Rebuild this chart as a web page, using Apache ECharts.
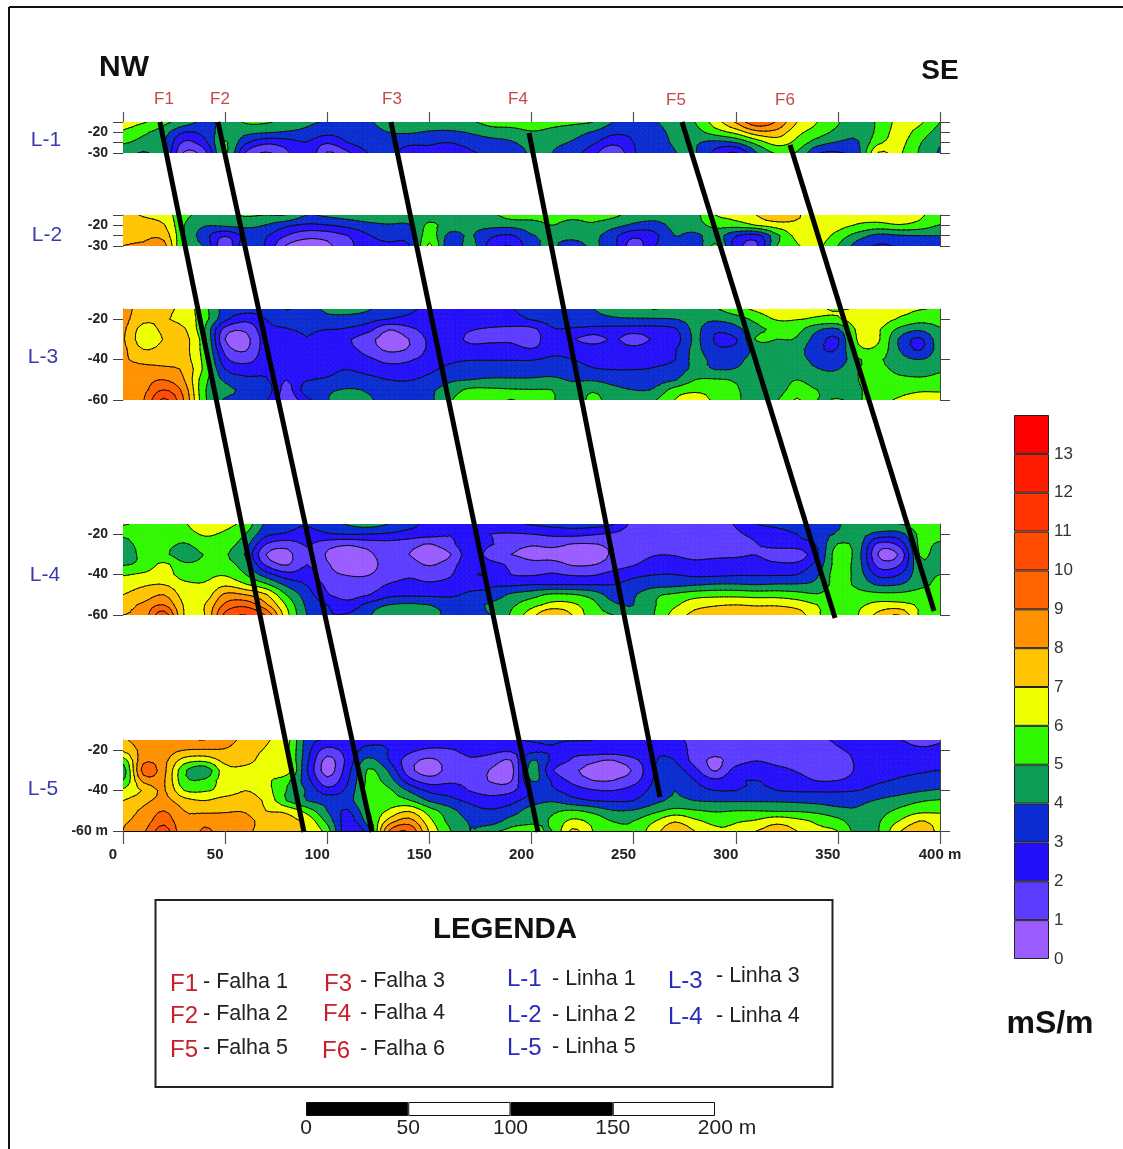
<!DOCTYPE html>
<html><head><meta charset="utf-8">
<script src="https://cdn.jsdelivr.net/npm/echarts@6/dist/echarts.min.js"></script>
<style>html,body{margin:0;padding:0;background:#fff}#c{width:1123px;height:1149px}</style>
</head><body><div id="c"></div>
<script>
// ---------- values (mS/m) ----------
const distanceM = [0,10,20,30,40,50,60,70,80,90,100,110,120,130,140,150,160,170,180,190,200,210,220,230,240,250,260,270,280,290,300,310,320,330,340,350,360,370,380,390,400];
const depthShallow = [-15,-20,-25,-30];
const depthDeep = [-15,-20,-25,-30,-35,-40,-45,-50,-55,-60];

const line1 = [
[6.3,6.1,5.3,4.5,3.8,4.3,5.1,5.1,4.7,4.2, 3.9,3.6,3.9,4.3,4.4,4.6,4.8,4.9,5.3,5.5, 5.6,5.3,5.2,5.0,4.0,3.7,3.95,4.3,5.0,6.5, 8.1,9.7,8.9,7.0,6.0,5.1,4.4,5.2,6.3,6.2, 5.0],
[5.9,5.2,4.4,3.0,3.3,4.6,4.3,4.1,3.9,3.7, 3.3,3.4,3.7,4.0,4.1,3.9,3.8,4.1,4.5,4.5, 4.9,4.7,4.4,3.9,3.2,3.2,3.7,4.2,4.6,5.5, 6.3,7.6,7.6,6.3,5.5,4.7,4.2,5.3,6.4,5.6, 4.6],
[5.1,4.6,4.1,1.8,2.7,5.1,3.2,2.2,2.5,2.95, 2.1,3.0,3.5,3.6,3.2,3.1,3.0,3.3,3.6,3.9, 4.3,4.2,3.9,3.2,2.3,3.0,3.5,4.1,4.1,3.7, 4.0,5.3,6.4,5.7,4.5,3.9,3.95,5.8,6.3,5.1, 4.1],
[4.4,3.9,4.1,0.9,1.6,5.2,1.9,0.9,1.8,2.9, 0.9,1.8,3.0,3.2,2.6,2.8,2.6,2.9,3.2,3.5, 4.1,4.0,3.4,2.4,1.0,2.9,3.4,3.95,4.1,2.7, 1.9,3.9,5.1,4.9,3.1,2.9,3.7,7.1,6.2,4.9, 3.9]
];
const line2 = [
[7.3,6.9,6.5,5.3,4.7,4.8,5.1,5.0,5.0,4.0, 4.2,4.4,4.6,4.7,4.6,4.6,4.6,4.8,4.8,5.4, 5.3,5.2,5.2,5.2,5.2,4.6,4.4,4.4,4.7,6.0, 6.3,7.0,7.7,7.1,6.6,6.5,6.4,6.5,6.9,6.2, 5.5],
[7.7,7.5,7.1,5.0,4.1,4.2,4.3,3.95,3.2,2.8, 2.95,3.3,3.7,3.9,3.9,5.2,4.5,4.3,4.3,4.3, 4.6,5.0,4.7,4.9,4.4,3.8,3.6,4.3,4.6,5.3, 5.5,6.0,6.5,6.8,6.9,6.4,5.9,5.7,5.9,5.6, 4.95],
[7.9,7.8,7.6,5.0,3.4,2.05,3.2,3.1,2.0,1.3, 1.4,2.0,2.9,3.4,3.5,5.5,3.7,4.1,3.2,2.9, 3.9,4.2,4.3,4.3,3.3,2.2,2.7,4.0,3.7,4.5, 3.1,2.6,4.7,6.3,6.6,5.6,4.5,3.7,3.9,4.0, 4.0],
[8.0,8.1,8.4,4.7,3.9,1.2,3.8,2.9,0.9,0.5, 0.8,1.7,2.6,2.8,2.9,6.2,3.3,4.4,2.6,2.0, 3.7,4.1,3.6,4.1,3.4,1.5,2.9,4.0,3.2,5.2, 2.5,1.8,5.0,5.9,6.2,5.0,3.5,2.9,3.1,3.3, 3.5]
];
const line3 = [
[8.3,7.6,7.3,6.6,5.3,3.6,3.4,3.3,4.05,3.6, 4.2,4.4,4.1,3.4,3.1,2.9,2.8,2.7,2.8,2.97, 3.3,3.6,3.9,4.0,4.2,4.3,5.05,4.4,4.4,4.9, 5.6,6.2,6.5,6.4,6.1,5.95,6.1,6.4,6.3,6.05, 5.95],
[8.3,7.3,7.1,6.6,5.4,3.3,2.3,3.0,3.4,3.5, 3.7,3.6,3.4,3.0,2.8,2.7,2.6,2.5,2.5,2.6, 3.1,3.4,3.6,3.7,3.9,3.95,3.9,4.0,4.3,4.2, 4.5,5.3,6.1,6.05,5.9,5.9,6.6,6.5,5.9,5.4, 5.4],
[8.2,6.6,7.2,7.1,5.0,1.6,1.2,2.7,2.95,3.2, 3.05,2.9,2.4,1.05,1.7,2.5,2.7,2.1,1.9,1.8, 1.7,2.9,2.9,2.7,2.6,2.5,2.6,2.85,4.2,3.2, 3.7,4.7,5.2,5.3,4.2,3.9,6.3,6.1,4.8,4.2, 4.9],
[8.1,6.4,7.05,7.3,5.3,1.0,0.7,2.4,2.1,2.95, 2.1,2.1,1.3,0.6,1.0,2.2,2.6,1.7,1.7,1.7, 1.2,2.98,2.1,1.6,2.1,1.6,2.1,2.5,4.15,2.9, 2.9,5.1,5.0,4.9,3.5,2.9,6.2,6.1,3.9,2.8, 4.6],
[8.2,7.0,7.3,7.3,5.4,1.6,0.9,2.5,2.6,2.8, 2.5,2.3,1.6,0.8,1.1,2.2,2.6,2.5,2.6,2.6, 2.1,2.8,2.7,2.6,2.5,2.3,2.6,2.9,4.2,3.2, 3.3,4.3,4.5,4.4,3.2,3.1,5.7,5.7,4.0,2.9, 4.5],
[8.1,7.7,7.5,7.4,5.6,2.3,1.6,2.6,2.7,2.7, 2.6,2.5,2.2,1.7,1.9,2.4,2.8,2.95,2.95,2.95, 2.95,3.15,3.0,2.7,2.6,2.6,2.7,2.95,4.3,3.7, 3.8,4.3,4.3,4.3,3.7,3.4,4.9,5.1,4.4,4.0, 4.6],
[8.2,8.3,8.3,7.8,5.7,3.0,2.6,2.8,2.8,2.7, 2.8,3.0,2.7,2.4,2.4,2.8,3.3,3.5,3.6,3.6, 3.6,3.6,3.5,3.1,3.0,3.0,3.1,3.5,4.2,4.0, 4.05,4.4,4.5,4.4,4.05,4.0,5.0,5.3,4.7,4.5, 4.9],
[8.4,8.6,9.0,8.0,5.3,3.8,3.2,3.1,2.0,2.9, 3.1,3.4,3.3,3.0,2.95,3.3,3.8,4.0,4.1,4.1, 4.1,4.2,3.9,3.9,3.6,3.5,3.6,3.9,5.0,5.1, 4.9,4.4,4.4,5.0,4.4,4.4,5.0,5.5,5.3,5.2, 5.3],
[8.3,8.7,10.0,8.6,5.1,4.3,3.8,3.6,1.7,3.6, 3.8,4.1,3.9,3.5,3.5,3.8,4.5,5.2,5.2,5.1, 5.05,5.0,4.4,4.9,4.3,4.0,4.1,5.4,5.8,5.6, 5.1,4.6,4.5,5.5,5.0,4.7,4.9,5.5,5.7,5.9, 5.9],
[8.4,8.95,11.2,8.9,5.2,3.9,3.8,3.1,1.4,2.7, 3.9,4.9,4.1,3.9,3.7,3.8,4.9,5.5,5.5,6.05, 5.5,5.1,4.5,5.2,4.6,4.2,4.9,6.0,6.5,5.8, 5.2,4.5,4.9,6.1,5.0,5.05,4.9,5.7,6.1,6.3, 6.3]
];
const line4 = [
[6.1,5.7,5.6,5.9,6.6,6.3,5.6,3.8,3.3,3.1, 3.6,4.1,4.4,4.0,3.3,2.8,2.6,2.5,2.6,2.8, 3.1,3.3,3.4,3.4,3.05,1.7,1.6,1.5,1.5,1.6, 2.1,2.98,3.3,3.6,3.7,3.95,4.3,4.8,5.0,5.4, 5.3],
[5.2,5.5,5.5,5.6,6.1,5.8,5.0,3.3,2.9,2.6, 2.9,3.05,3.0,2.85,2.6,2.4,2.05,2.3,2.0,1.9, 2.0,2.2,2.3,2.1,1.8,1.4,1.4,1.5,1.4,1.5, 1.8,2.3,2.5,3.0,3.5,4.1,4.4,3.7,3.6,5.2, 5.5],
[4.6,5.4,5.4,4.9,5.6,5.4,4.4,2.0,1.4,2.1, 1.4,1.1,1.4,1.6,1.4,0.95,1.7,2.7,2.1,1.5, 1.1,1.3,0.95,0.95,1.2,1.4,1.6,1.6,1.05,1.4, 1.6,1.95,2.6,2.7,3.1,5.05,4.5,1.7,2.3,5.2, 4.8],
[4.3,5.3,5.2,4.4,5.05,5.1,3.9,1.0,0.7,1.8, 0.9,0.5,0.8,1.5,1.0,0.6,0.9,2.6,1.5,1.0, 0.7,0.6,0.5,0.6,1.1,1.3,1.9,1.9,1.5,1.6, 1.7,1.95,1.2,1.3,2.9,5.5,4.4,0.9,1.1,5.05, 4.4],
[4.9,5.3,6.2,5.2,5.3,5.3,4.4,1.8,0.9,2.0, 1.1,0.5,0.6,1.4,1.4,0.9,1.5,2.8,2.4,1.8, 1.3,1.4,0.9,0.95,1.4,1.9,2.6,2.6,2.4,2.6, 2.7,2.6,2.3,2.3,3.4,5.4,4.4,1.6,1.9,4.7, 4.5],
[5.9,6.2,6.5,5.5,5.7,5.9,5.0,3.5,2.4,2.4, 1.3,0.95,0.95,1.6,1.9,1.7,1.9,2.9,2.9,2.0, 1.9,2.1,1.9,1.9,2.4,2.8,2.98,3.0,2.8,2.8, 2.9,2.9,2.9,3.0,3.9,5.5,4.5,2.7,3.0,4.6, 5.0],
[6.7,6.9,7.0,6.3,6.1,6.8,6.1,5.2,3.8,2.95, 1.8,1.4,1.5,2.05,2.2,2.1,2.3,2.7,2.9,2.8, 3.0,3.0,3.0,3.0,3.0,3.3,3.6,3.7,3.9,4.1, 4.1,4.0,4.1,4.1,4.3,5.4,4.7,3.9,4.0,4.7, 5.2],
[7.0,7.4,8.0,6.6,6.4,8.2,8.0,7.1,5.0,3.5, 2.1,1.6,1.95,2.7,2.8,2.8,2.8,3.2,3.3,4.2, 4.6,5.2,5.1,4.6,3.6,3.9,4.8,5.2,5.6,5.7, 5.7,5.6,5.6,5.4,5.1,5.6,5.4,5.3,5.3,5.5, 5.6],
[7.7,8.2,9.0,6.9,7.0,9.2,9.7,8.2,5.9,3.8, 3.0,2.4,3.3,4.0,4.2,4.0,3.7,3.6,4.2,4.8, 5.6,6.3,6.2,5.3,4.2,4.0,4.9,5.8,6.6,6.9, 7.0,6.9,6.9,6.6,6.0,5.5,5.8,6.3,6.3,5.9, 5.7],
[8.0,8.4,10.6,6.95,7.0,10.3,11.0,9.9,6.4,4.0, 3.1,3.1,3.8,5.0,4.5,4.3,3.8,3.7,4.0,5.1, 6.6,8.0,7.0,5.4,5.0,4.2,5.0,6.4,7.3,7.6, 7.8,7.7,7.7,7.5,6.2,5.1,6.0,7.3,8.0,5.9, 5.5]
];
const line5 = [
[7.9,8.4,8.6,8.8,9.0,8.4,7.7,7.1,6.4,3.6, 2.9,2.9,2.9,2.9,2.8,2.7,2.6,2.7,2.9,2.9, 3.1,3.1,3.05,3.0,2.95,2.6,2.4,2.1,1.9,1.8, 1.7,1.7,1.7,1.8,1.9,2.1,2.5,2.8,2.1,1.5, 1.9],
[7.2,8.3,8.5,8.0,7.9,7.9,7.4,6.9,6.2,3.5, 1.6,2.5,3.2,3.0,2.3,1.8,1.9,2.3,2.3,2.2, 2.7,2.9,2.4,2.7,2.7,2.8,2.9,2.6,1.7,1.4, 1.5,1.6,1.5,1.6,1.7,1.9,2.3,2.8,2.7,2.3, 2.3],
[5.5,8.7,8.3,6.6,6.3,7.3,7.3,6.6,6.2,3.3, 0.7,2.3,4.3,3.0,1.5,0.8,1.5,1.9,1.6,1.0, 4.0,2.85,1.9,1.2,1.0,1.7,2.9,3.0,1.6,0.8, 1.5,1.95,1.6,1.5,1.5,1.5,2.2,2.8,2.9,2.8, 2.7],
[4.4,9.4,8.3,5.2,4.3,6.6,6.7,6.4,6.6,3.1, 0.6,2.6,5.1,3.9,1.4,0.5,1.4,2.0,0.9,0.6, 4.5,2.1,1.2,0.7,0.7,1.1,3.0,3.4,2.3,0.9, 2.4,2.7,2.4,1.9,1.4,1.3,2.2,2.6,2.8,2.9, 3.0],
[5.0,8.3,8.1,5.3,5.2,6.6,6.6,6.2,5.3,3.4, 1.3,2.9,5.2,4.5,2.4,1.5,1.8,1.8,0.9,0.9, 4.1,2.9,1.7,1.0,1.0,1.6,3.1,3.9,3.0,2.2, 2.9,3.0,2.9,2.5,1.95,2.0,2.5,2.85,3.1,3.3, 3.4],
[6.3,7.1,8.1,6.0,5.9,6.4,7.0,6.4,5.0,3.9, 2.4,3.3,5.3,5.2,3.9,2.8,2.6,1.95,1.6,1.8, 3.0,3.1,2.6,2.1,2.0,2.5,3.3,4.0,3.4,3.0, 3.0,3.1,3.0,2.9,2.9,2.9,3.0,3.4,3.6,3.9, 4.1],
[7.0,7.7,8.3,7.4,7.0,7.5,7.4,6.8,5.0,4.0, 3.7,3.6,5.3,5.4,5.1,3.9,3.3,2.8,2.4,2.7, 3.5,3.9,3.3,3.0,2.9,3.0,3.7,4.2,4.0,3.9, 3.9,3.9,3.9,3.8,3.7,3.6,3.8,4.1,4.5,4.9, 5.1],
[7.6,8.2,9.0,8.0,7.8,7.9,7.9,7.0,6.8,5.6, 4.0,2.9,4.9,6.1,6.9,5.5,4.4,3.4,3.1,3.5, 4.5,4.8,5.1,4.7,4.05,4.1,4.7,5.3,5.1,4.9, 5.0,5.0,4.9,4.9,4.7,4.3,4.1,4.6,5.2,5.7, 5.8],
[7.9,8.4,9.6,8.2,8.6,8.4,8.3,7.6,7.3,6.7, 4.7,2.6,4.5,7.3,8.4,6.3,4.7,3.9,3.5,4.4, 4.8,5.1,6.2,5.7,4.95,5.0,5.9,6.9,6.2,5.7, 5.9,6.1,6.7,6.3,5.8,5.3,4.4,4.9,6.0,7.0, 6.6],
[8.0,8.8,10.5,8.2,9.2,8.4,8.2,7.6,7.4,6.9, 5.5,2.3,3.6,9.0,9.9,6.9,5.1,4.0,4.7,5.3, 5.4,5.0,7.2,6.0,5.4,5.2,6.6,7.6,7.0,6.2, 6.2,7.0,7.4,7.0,6.2,6.0,4.6,5.0,6.9,7.6, 6.8]
];
// fault traces: [distance in metres, vertical position on the sheet]
const fault1 = [[18.1,122],[88.6,832]];
const fault2 = [[46.5,122],[121.9,832]];
const fault3 = [[131.2,122],[203.2,832]];
const fault4 = [[198.8,133],[262.9,797]];
const fault5 = [[273.7,122],[348.6,618]];
const fault6 = [[326.6,145],[397.1,611]];

const bandLevels = [0,1,2,3,4,5,6,7,8,9,10,11,12,13,14];
const bandColors = ['#9A5CFF','#5C3CFF','#2410F8','#0A2CD0','#0C9C55','#30F800','#EEFF00','#FFC400','#FF9000','#FF6400','#FF4C00','#FF3400','#FF1C00','#FF0000'];
const scaleSegments = [50,50,50,50];
const scaleColors = ['#000','#fff','#000','#fff'];
const scaleTicks = ['0','50','100','150','200 m'];
const lineLabels = ['L-1','L-2','L-3','L-4','L-5'];
const faultLabels = ['F1','F2','F3','F4','F5','F6'];
const legendFaults = [['F1','- Falha 1'],['F2','- Falha 2'],['F5','- Falha 5'],['F3','- Falha 3'],['F4','- Falha 4'],['F6','- Falha 6']];
const legendLines = [['L-1','- Linha 1'],['L-2','- Linha 2'],['L-5','- Linha 5'],['L-3','- Linha 3'],['L-4','- Linha 4']];

// ---------- layout ----------
const FONT = '"Liberation Sans", Arial, sans-serif';
const RED = '#C8202A', BLUE = '#2A2ABE';
const panels = [
 {m:line1,d:depthShallow,top:122,h:31,ticks:[-15,-20,-25,-30],labels:[-20,-30]},
 {m:line2,d:depthShallow,top:215,h:31,ticks:[-15,-20,-25,-30],labels:[-20,-30]},
 {m:line3,d:depthDeep,top:309,h:91,ticks:[-20,-40,-60],labels:[-20,-40,-60]},
 {m:line4,d:depthDeep,top:524,h:91,ticks:[-20,-40,-60],labels:[-20,-40,-60]},
 {m:line5,d:depthDeep,top:740,h:91,ticks:[-20,-40,-60],labels:[-20,-40,-60]}
];

// one data item per grid cell: its corners in axis units, its four read values, its indices
function cells(xs,ds,m){
  const out=[];
  for(let r=0;r<ds.length-1;r++)for(let c=0;c<xs.length-1;c++)
    out.push([xs[c],ds[r],xs[c+1],ds[r+1],m[r][c],m[r][c+1],m[r+1][c],m[r+1][c+1],c,r]);
  return out;
}
function clipAt(poly,L,above){
  const res=[];
  for(let i=0;i<poly.length;i++){
    const a=poly[i],b=poly[(i+1)%poly.length];
    const ina=above?a[2]>=L:a[2]<=L, inb=above?b[2]>=L:b[2]<=L;
    if(ina)res.push(a);
    if(ina!==inb){const t=(L-a[2])/(b[2]-a[2]);res.push([a[0]+t*(b[0]-a[0]),a[1]+t*(b[1]-a[1]),L]);}
  }
  return res;
}
// contouring surface through the read values (drawing only)
function cr(a,b,c,d,t){return b+0.5*t*(c-a+t*(2*a-5*b+4*c-d+t*(3*(b-c)+d-a)));}
function surface(m,rr,cc){
  const R=Math.min(Math.floor(rr),m.length-2),C=Math.min(Math.floor(cc),m[0].length-2);
  const t=rr-R,s=cc-C,col=[];
  for(let j=-1;j<=2;j++){
    const row=m[Math.max(0,Math.min(m.length-1,R+j))];
    col.push(cr(row[Math.max(0,C-1)],row[C],row[C+1],row[Math.min(row.length-1,C+2)],s));
  }
  return Math.max(0.01,Math.min(13.99,cr(col[0],col[1],col[2],col[3],t)));
}
const NX=4,NY=2;
function triangles(api,m){
  const a=api.coord([api.value(0),api.value(1)]),d=api.coord([api.value(2),api.value(3)]);
  const c=api.value(8),r=api.value(9),pts=[];
  for(let j=0;j<=NY;j++){const row=[];
    for(let i=0;i<=NX;i++)row.push([a[0]+(d[0]-a[0])*i/NX,a[1]+(d[1]-a[1])*j/NY,surface(m,r+j/NY,c+i/NX)]);
    pts.push(row);}
  const tris=[];
  for(let j=0;j<NY;j++)for(let i=0;i<NX;i++){
    const A=pts[j][i],B=pts[j][i+1],C=pts[j+1][i],D=pts[j+1][i+1];
    tris.push([A,B,D],[A,D,C]);
  }
  return tris;
}
function fillRenderer(m){return function(params,api){
  const children=[];
  triangles(api,m).forEach(t=>{
    const lo=Math.min(t[0][2],t[1][2],t[2][2]),hi=Math.max(t[0][2],t[1][2],t[2][2]);
    for(let k=Math.floor(lo);k<=Math.floor(hi)&&k<bandColors.length;k++){
      let p=clipAt(t,bandLevels[k],true);
      if(p.length>2)p=clipAt(p,bandLevels[k+1],false);
      if(p.length>2)children.push({type:'polygon',shape:{points:p.map(q=>[q[0],q[1]])},
        style:{fill:bandColors[k],stroke:bandColors[k],lineWidth:0.7}});
    }
  });
  return {type:'group',children};
};}
function lineRenderer(m){return function(params,api){
  const children=[];
  triangles(api,m).forEach(t=>{
    const lo=Math.min(t[0][2],t[1][2],t[2][2]),hi=Math.max(t[0][2],t[1][2],t[2][2]);
    for(let k=Math.max(1,Math.ceil(lo));k<=hi&&k<bandColors.length;k++){
      const L=bandLevels[k],pts=[];
      for(let i=0;i<3;i++){
        const a=t[i],b=t[(i+1)%3];
        if((a[2]<L)!==(b[2]<L)){const s=(L-a[2])/(b[2]-a[2]);pts.push([a[0]+s*(b[0]-a[0]),a[1]+s*(b[1]-a[1])]);}
      }
      if(pts.length===2)children.push({type:'line',shape:{x1:pts[0][0],y1:pts[0][1],x2:pts[1][0],y2:pts[1][1]},
        style:{stroke:'#101010',lineWidth:1,lineCap:'round'}});
    }
  });
  return {type:'group',children};
};}

const grid=[],xAxis=[],yAxis=[],series=[];
panels.forEach((p,i)=>{
  grid.push({left:123,width:817,top:p.top,height:p.h});
  const isTop=i===0,isBottom=i===4;
  xAxis.push({type:'value',gridIndex:i,min:0,max:400,interval:50,position:isTop?'top':'bottom',
    show:isTop||isBottom,splitLine:{show:false},
    axisLine:{show:true,onZero:false,lineStyle:{color:'#000',width:1}},
    axisTick:{show:true,length:isTop?10:13,lineStyle:{color:'#555',width:1.2}},
    axisLabel:{show:isBottom,margin:16,interval:0,
      formatter:v=>v===400?'{b|400 m}':'{a|'+v+'}',
      rich:{a:{fontFamily:FONT,fontSize:15,fontWeight:'bold',color:'#222',padding:[0,20,0,0]},
            b:{fontFamily:FONT,fontSize:15,fontWeight:'bold',color:'#222'}}}});
  const base={type:'value',gridIndex:i,min:p.d[p.d.length-1],max:-15,splitLine:{show:false}};
  yAxis.push(Object.assign({},base,{position:'left',
    axisLine:{show:true,onZero:false,lineStyle:{color:'#666',width:1}},
    axisTick:{show:true,length:10,customValues:p.ticks,lineStyle:{color:'#444',width:1}},
    axisLabel:{show:true,margin:15,customValues:p.labels,fontFamily:FONT,fontSize:14,fontWeight:'bold',color:'#222',
      formatter:v=>(isBottom&&v===-60)?'-60 m':String(v)}}));
  yAxis.push(Object.assign({},base,{position:'right',
    axisLine:{show:true,onZero:false,lineStyle:{color:'#444',width:1}},
    axisTick:{show:true,length:10,customValues:p.ticks,lineStyle:{color:'#444',width:1}},
    axisLabel:{show:false}}));
  const data=cells(distanceM,p.d,p.m);
  const common={type:'custom',coordinateSystem:'cartesian2d',xAxisIndex:i,yAxisIndex:2*i,data,silent:true,
    clip:true,animation:false,encode:{x:[0,2],y:[1,3]},dimensions:['x0','y0','x1','y1','v00','v10','v01','v11','col','row'],progressive:0};
  series.push(Object.assign({},common,{name:lineLabels[i]+' fill',renderItem:fillRenderer(p.m),z:2}));
  series.push(Object.assign({},common,{name:lineLabels[i]+' contours',renderItem:lineRenderer(p.m),z:3}));
});

// fault overlay
grid.push({left:123,width:817,top:0,height:1149});
xAxis.push({type:'value',gridIndex:5,min:0,max:400,show:false});
yAxis.push({type:'value',gridIndex:5,min:0,max:1149,inverse:true,show:false});
const faultY=yAxis.length-1;
[fault1,fault2,fault3,fault4,fault5,fault6].forEach((f,i)=>{
  series.push({type:'line',name:faultLabels[i],xAxisIndex:5,yAxisIndex:faultY,data:f,symbol:'none',silent:true,
    animation:false,z:10,lineStyle:{color:'#000',width:5,cap:'butt'}});
});

// colour bar
grid.push({left:1014,width:35,top:415,height:544});
xAxis.push({type:'category',gridIndex:6,data:['mS/m'],show:false});
yAxis.push({type:'value',gridIndex:6,min:0,max:14,interval:1,position:'right',splitLine:{show:false},
  axisLine:{show:false},axisTick:{show:false},
  axisLabel:{show:true,margin:5,fontFamily:FONT,fontSize:17,color:'#333',formatter:v=>v<14?String(v):''}});
const barY=yAxis.length-1;
bandColors.forEach((col,k)=>{
  series.push({type:'bar',xAxisIndex:6,yAxisIndex:barY,stack:'bar',name:'band '+k,barWidth:'100%',data:[bandLevels[k+1]-bandLevels[k]],
    silent:true,animation:false,itemStyle:{color:col,borderColor:'#222',borderWidth:1}});
});

// scale bar
grid.push({left:306,width:409,top:1102,height:14});
xAxis.push({type:'value',gridIndex:7,min:0,max:200,interval:50,splitLine:{show:false},axisLine:{show:false},axisTick:{show:false},
  axisLabel:{show:true,margin:2,showMinLabel:true,showMaxLabel:true,
    formatter:(v,i)=>scaleTicks[i]==='200 m'?'{b|200 m}':'{a|'+scaleTicks[i]+'}',
    rich:{a:{fontFamily:FONT,fontSize:21,color:'#222'},b:{fontFamily:FONT,fontSize:21,color:'#222',padding:[0,0,0,24]}}}});
yAxis.push({type:'category',gridIndex:7,data:['escala'],show:false});
const scaleY=yAxis.length-1;
scaleSegments.forEach((w,k)=>{
  series.push({type:'bar',xAxisIndex:7,yAxisIndex:scaleY,stack:'scale',name:'scale '+k,barWidth:'100%',data:[w],
    silent:true,animation:false,itemStyle:{color:scaleColors[k],borderColor:'#111',borderWidth:1}});
});

// annotation text
function txt(s,x,y,size,color,opt){
  return Object.assign({type:'text',x,y,silent:true,z:20,style:Object.assign({text:s,fontFamily:FONT,fontSize:size,fill:color,
    textAlign:'center',textVerticalAlign:'middle'},opt||{})});
}
const faultPos=[[164,99],[220,99],[392,99],[518,99],[676,100],[785,100]];
const linePos=[[46,140],[47,235],[43,357],[45,575],[43,789]];
const lfPos=[[170,984,203,982],[170,1016,203,1014],[170,1050,203,1048],[324,984,360,981],[323,1014,360,1013],[322,1051,360,1049]];
const llPos=[[507,979,552,979],[507,1015,552,1015],[507,1048,552,1047],[668,981,716,976],[668,1017,716,1016]];
const graphic=[
  {type:'line',silent:true,shape:{x1:9,y1:7,x2:1123,y2:7},style:{stroke:'#111',lineWidth:2}},
  {type:'line',silent:true,shape:{x1:9,y1:7,x2:9,y2:1149},style:{stroke:'#111',lineWidth:2}},
  {type:'rect',silent:true,shape:{x:155.5,y:900,width:677,height:187},style:{fill:'#fff',stroke:'#222',lineWidth:2}},
  txt('NW',124,68,30,'#111',{fontWeight:'bold'}),
  txt('SE',940,71,28,'#111',{fontWeight:'bold'}),
  txt('mS/m',1050,1024,32,'#111',{fontWeight:'bold'}),
  txt('LEGENDA',505,930,29.5,'#111',{fontWeight:'bold'})
];
faultLabels.forEach((s,i)=>graphic.push(txt(s,faultPos[i][0],faultPos[i][1],17,'#C84848')));
lineLabels.forEach((s,i)=>graphic.push(txt(s,linePos[i][0],linePos[i][1],21,'#3A3AB0')));
legendFaults.forEach((r,i)=>{const p=lfPos[i];
  graphic.push(txt(r[0],p[0],p[1],24,RED,{textAlign:'left'}));
  graphic.push(txt(r[1],p[2],p[3],21.5,'#222',{textAlign:'left'}));});
legendLines.forEach((r,i)=>{const p=llPos[i];
  graphic.push(txt(r[0],p[0],p[1],24,BLUE,{textAlign:'left'}));
  graphic.push(txt(r[1],p[2],p[3],21.5,'#222',{textAlign:'left'}));});

const chart=echarts.init(document.getElementById('c'),null,{renderer:'canvas'});
chart.setOption({animation:false,backgroundColor:'#fff',grid,xAxis,yAxis,series,graphic});
</script></body></html>
